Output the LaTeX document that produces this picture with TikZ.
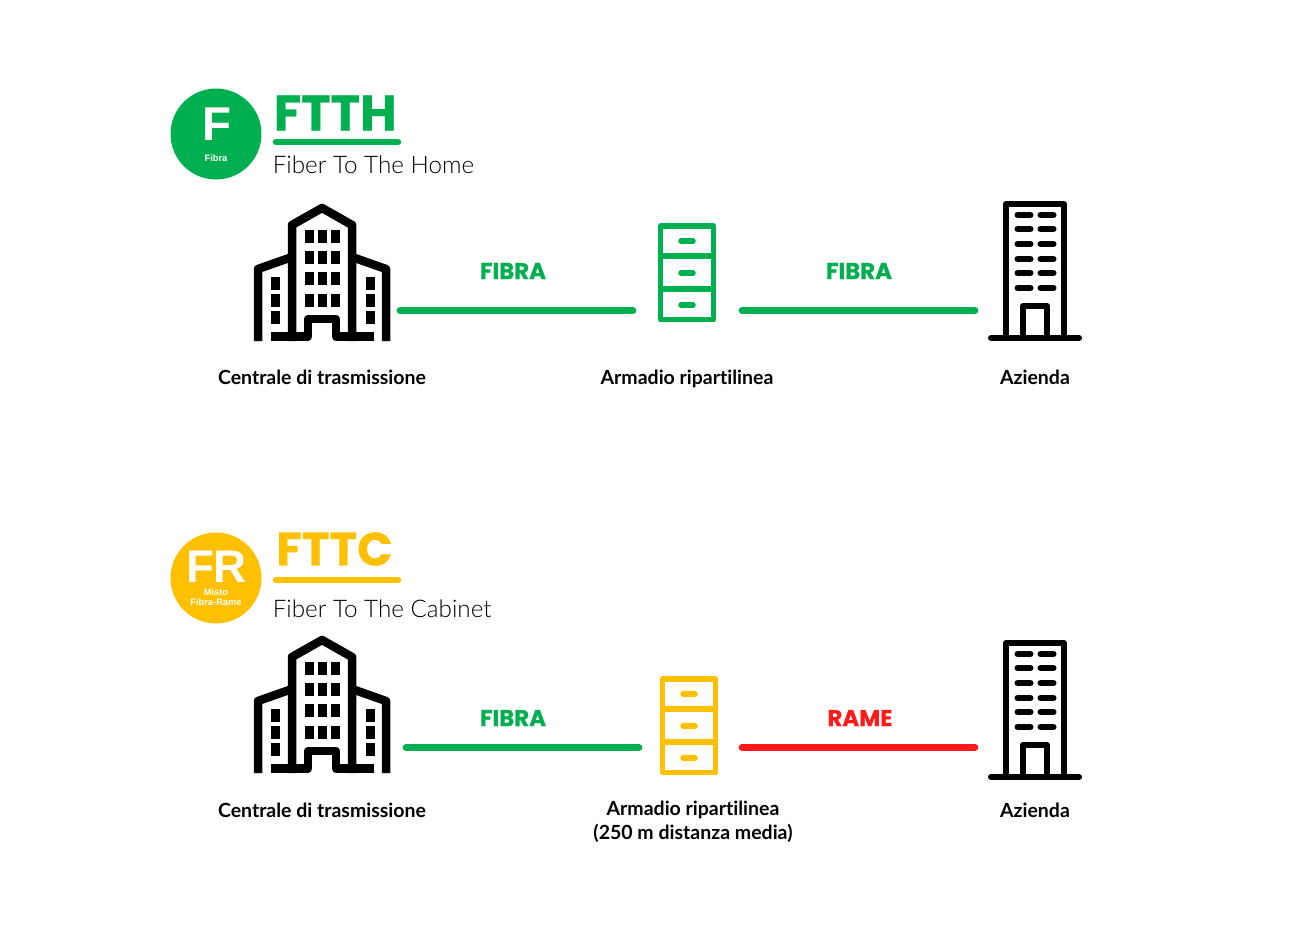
\documentclass[tikz,border=0pt]{standalone}
\usepackage{fontspec}
\setmainfont{Lato}[Ligatures=NoCommon]
\newfontfamily\lightfont{Lato Light}
\newfontfamily\headfont{Poppins}[BoldFeatures={FakeBold=0.5}]
\newfontfamily\markfont{Liberation Sans}
\definecolor{fibra}{HTML}{00B050}
\definecolor{misto}{HTML}{FFC000}
\definecolor{rame}{HTML}{FF1A1A}
\begin{document}
\begin{tikzpicture}
    [
        x=0.02cm, y=-0.02cm,
        badge/.style={circle, fill=#1, inner sep=0pt, minimum size=1.82cm,},
        title/.style={text=#1, anchor=west, inner sep=0pt, font=\headfont\fontsize{28.4}{30}\selectfont\bfseries,},
        subtitle/.style={anchor=west, inner sep=0pt, font=\lightfont\fontsize{13.8}{16}\selectfont,},
        place/.style={align=center, inner sep=0pt, font=\fontsize{11.1}{13.6}\selectfont\bfseries,},
        wire/.style={text=#1, inner sep=0pt, font=\headfont\fontsize{13}{13}\selectfont\bfseries,},
        link/.style={draw=#1, line width=0.135cm, line cap=round,},
        underbar/.style={draw=#1, line width=0.13cm, line cap=round,},
        pics/central/.style={code={
            \draw [line width=0.17cm, line join=round] (-30,0) -- (-30,-116) -- (0,-133) -- (30,-116) -- (30,0);
            \draw [line width=0.17cm, line join=round] (-64,0) -- (-64,-72) -- (-30,-84);
            \draw [line width=0.17cm, line join=round] (64,0) -- (64,-72) -- (30,-84);
            \draw [line width=0.17cm, line join=round] (-51,-4.5) -- (-14,-4.5) -- (-14,-22) -- (14,-22) -- (14,-4.5) -- (52,-4.5);
            \foreach \cx in {-13,0,13}
                \foreach \cy in {-104.5,-83.5,-62.5,-40.5}
                    \fill (\cx-4.5,\cy-6.5) rectangle (\cx+4.5,\cy+6.5);
            \foreach \cx in {-47,48}
                \foreach \cy in {-58,-40.5,-23.5}
                    \fill (\cx-4.5,\cy-6.5) rectangle (\cx+4.5,\cy+6.5);
        }},
        pics/cabinet/.style={code={
            \draw [#1, line width=0.11cm, line join=round] (-26.5,0) rectangle (26.5,93.5);
            \draw [#1, line width=0.11cm] (-26.5,30) -- (26.5,30);
            \draw [#1, line width=0.11cm] (-26.5,63) -- (26.5,63);
            \foreach \cy in {15,47,79}
                \draw [#1, line width=0.11cm, line cap=round] (-6,\cy) -- (6,\cy);
        }},
        pics/office/.style={code={
            \draw [line width=0.12cm, line join=round] (-29,0) -- (-29,-134) -- (29,-134) -- (29,0);
            \draw [line width=0.12cm, line cap=round] (-44,0) -- (44,0);
            \draw [line width=0.12cm, line join=round] (-12,0) -- (-12,-32) -- (12,-32) -- (12,0);
            \foreach \cy in {-123,-109,-94,-79,-65,-50} {
                \draw [line width=0.12cm, line cap=round] (-17.5,\cy) -- (-4.5,\cy);
                \draw [line width=0.12cm, line cap=round] (5.5,\cy) -- (18.5,\cy);
            }
        }},
    ]
    \useasboundingbox (0,0) rectangle (1300,950);

    % ftth
    \node (bf) at (216,134) [badge=fibra] {};
    \node (bfa) at (217,124.5) [text=white, inner sep=0pt, font=\markfont\fontsize{27}{27}\selectfont\bfseries] {F};
    \node (bfb) at (216,158.5) [text=white, inner sep=0pt, font=\markfont\fontsize{5.3}{5.3}\selectfont\bfseries] {Fibra};
    \node (th) at (273.5,113) [title=fibra] {FTTH};
    \coordinate (tha) at (276,142);
    \coordinate (thb) at (398,142);
    \draw [underbar=fibra] (tha) -- (thb);
    \node (ts) at (272.5,165) [subtitle] {Fiber To The Home};

    \pic at (322,341) {central};
    \pic at (687,226) {cabinet=fibra};
    \pic at (1035,338) {office};

    \coordinate (a1) at (400,310.5);
    \coordinate (a2) at (633,310.5);
    \coordinate (a3) at (742,310.5);
    \coordinate (a4) at (975,310.5);
    \draw [link=fibra] (a1) -- (a2);
    \draw [link=fibra] (a3) -- (a4);
    \node (w1) at (513,271) [wire=fibra] {FIBRA};
    \node (w2) at (859,271) [wire=fibra] {FIBRA};

    \node (p1) at (322,377) [place] {Centrale di trasmissione};
    \node (p2) at (687,379) [place] {Armadio ripartilinea};
    \node (p3) at (1035,377) [place] {Azienda};

    % fttc
    \node (bc) at (216,578) [badge=misto] {};
    \node (bca) at (216.5,566.5) [text=white, inner sep=0pt, font=\markfont\fontsize{26}{26}\selectfont\bfseries] {FR};
    \node (bcb) at (216,592) [text=white, inner sep=0pt, font=\markfont\fontsize{5.3}{5.3}\selectfont\bfseries] {Misto};
    \node (bcc) at (216,602.5) [text=white, inner sep=0pt, font=\markfont\fontsize{5.3}{5.3}\selectfont\bfseries] {Fibra-Rame};
    \node (tc) at (276,549) [title=misto, font=\headfont\fontsize{26.6}{30}\selectfont\bfseries] {FTTC};
    \coordinate (tca) at (276,580);
    \coordinate (tcb) at (398,580);
    \draw [underbar=misto] (tca) -- (tcb);
    \node (us) at (272.5,609) [subtitle] {Fiber To The Cabinet};

    \pic at (322,773) {central};
    \pic at (689,679) {cabinet=misto};
    \pic at (1035,777) {office};

    \coordinate (b1) at (406,747.5);
    \coordinate (b2) at (639,747.5);
    \coordinate (b3) at (742,747.5);
    \coordinate (b4) at (975,747.5);
    \draw [link=fibra] (b1) -- (b2);
    \draw [link=rame] (b3) -- (b4);
    \node (w3) at (513,718) [wire=fibra] {FIBRA};
    \node (w4) at (860,718) [wire=rame] {RAME};

    \node (q1) at (322,810) [place] {Centrale di trasmissione};
    \node (q2) at (693,822) [place] {Armadio ripartilinea\\(250 m distanza media)};
    \node (q3) at (1035,810) [place] {Azienda};
\end{tikzpicture}
\end{document}
